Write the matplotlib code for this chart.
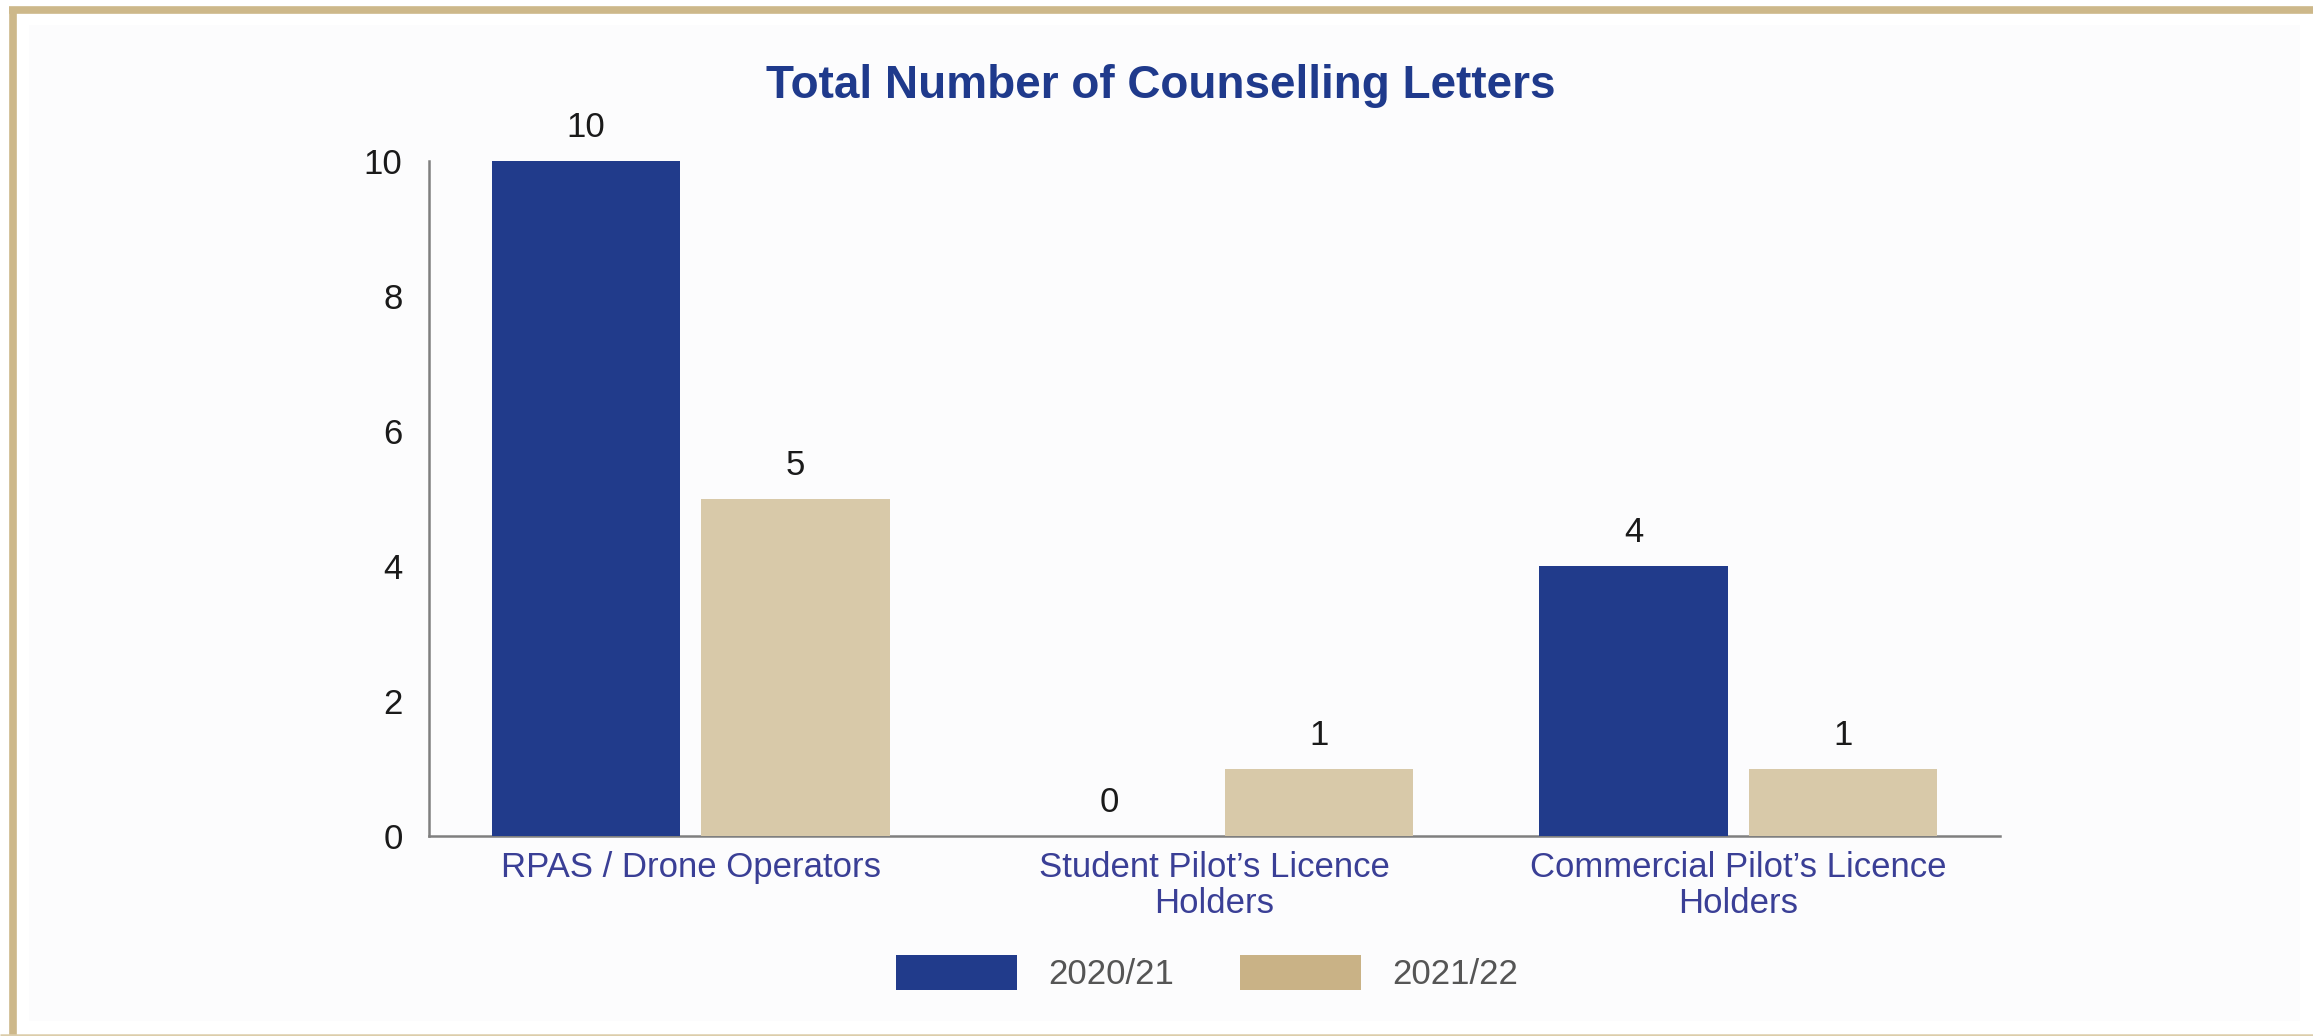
import matplotlib
matplotlib.use("Agg")
import matplotlib.pyplot as plt
from matplotlib.patches import Rectangle, Patch
import numpy as np

categories = ["RPAS / Drone Operators", "Student Pilot\u2019s Licence\nHolders", "Commercial Pilot\u2019s Licence\nHolders"]
series_names = ["2020/21", "2021/22"]
values_2020 = [10, 0, 4]
values_2021 = [5, 1, 1]
yticks = [0, 2, 4, 6, 8, 10]

BLUE = "#213B8B"
TAN_BAR = "#D8C9A9"
TAN_LEG = "#C9B286"
GOLD = "#CDB88A"
FS = 25

plt.rcParams['font.family'] = ['Liberation Sans', 'DejaVu Sans']

fig = plt.figure(figsize=(23.13, 10.36), dpi=100)
fig.patch.set_facecolor("white")

# panel background and borders
fig.add_artist(Rectangle((29/2313, 1-1021/1036), (2300-29)/2313, (1021-25)/1036,
                         transform=fig.transFigure, facecolor="#FCFCFD", edgecolor="none", zorder=0))
fig.add_artist(plt.Line2D([9/2313, 1], [1-9.5/1036, 1-9.5/1036], transform=fig.transFigure,
                          color=GOLD, lw=5.5, solid_capstyle="butt"))
fig.add_artist(plt.Line2D([12.5/2313, 12.5/2313], [0, 1-7/1036], transform=fig.transFigure,
                          color=GOLD, lw=5.5, solid_capstyle="butt"))
fig.add_artist(plt.Line2D([0, 1], [1.2/1036, 1.2/1036], transform=fig.transFigure,
                          color="#DCCDAA", lw=1.8, solid_capstyle="butt"))

ax = fig.add_axes([429/2313, 1-836/1036, (2000-429)/2313, (836-161)/1036])
ax.set_facecolor("none")

x = np.arange(len(categories))
w = 0.36
off = 0.2
b1 = ax.bar(x - off, values_2020, width=w, color=BLUE, zorder=3)
b2 = ax.bar(x + off, values_2021, width=w, color=TAN_BAR, zorder=3)

for bars, vals in ((b1, values_2020), (b2, values_2021)):
    for r, v in zip(bars, vals):
        ax.annotate(str(v), (r.get_x() + r.get_width()/2, r.get_height()),
                    xytext=(0, 12), textcoords="offset points", ha="center", va="bottom",
                    fontsize=FS, color="#1A1A1A")

ax.set_xlim(-0.5, 2.5)
ax.set_ylim(0, 10)
ax.set_yticks(yticks)
ax.set_yticklabels([str(t) for t in yticks], fontsize=FS, color="#1A1A1A")
ax.set_xticks(x)
ax.set_xticklabels(categories, fontsize=FS, color="#3A3F96", linespacing=1.12)
ax.tick_params(axis="y", length=0, pad=19)
ax.tick_params(axis="x", length=0, pad=11)
for s in ("top", "right"):
    ax.spines[s].set_visible(False)
for s in ("left", "bottom"):
    ax.spines[s].set_color("#7F7F7F")
    ax.spines[s].set_linewidth(1.8)

fig.text(1161/2313, 1-86/1036, "Total Number of Counselling Letters", ha="center", va="center",
         fontsize=33, fontweight="bold", color="#1F3A8C")

handles = [Patch(facecolor=BLUE, edgecolor="none"), Patch(facecolor=TAN_LEG, edgecolor="none")]
fig.legend(handles, series_names, loc="center", bbox_to_anchor=(1207/2313, 1-973/1036),
           ncol=2, frameon=False, fontsize=FS, labelcolor="#555555",
           handlelength=3.49, handleheight=1.18, handletextpad=0.89, columnspacing=1.9)

fig.savefig("out.png", dpi=100, facecolor=fig.get_facecolor())
